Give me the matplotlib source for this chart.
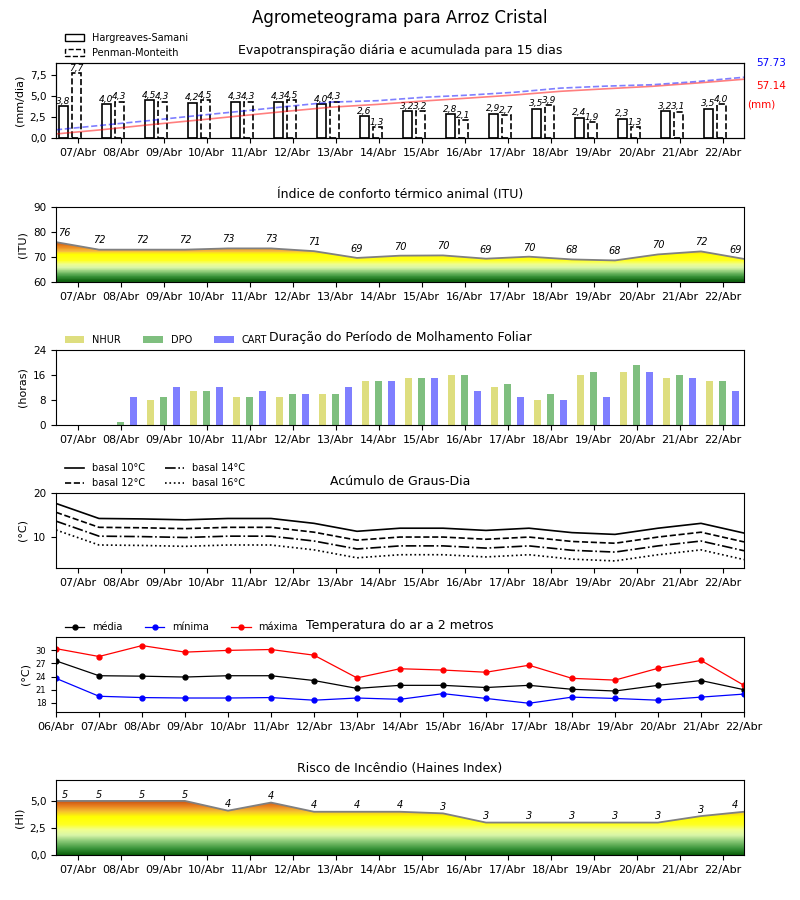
import numpy as np
import matplotlib
matplotlib.use("Agg")
import matplotlib.pyplot as plt
from matplotlib.colors import LinearSegmentedColormap
from matplotlib.patches import Patch
from matplotlib.ticker import FuncFormatter

# --- dados ---
dias = ["07/Abr", "08/Abr", "09/Abr", "10/Abr", "11/Abr", "12/Abr", "13/Abr", "14/Abr",
        "15/Abr", "16/Abr", "17/Abr", "18/Abr", "19/Abr", "20/Abr", "21/Abr", "22/Abr"]
dias_temp = ["06/Abr"] + dias

et_hs = [3.8, 4.0, 4.5, 4.2, 4.3, 4.3, 4.0, 2.6, 3.2, 2.8, 2.9, 3.5, 2.4, 2.3, 3.2, 3.5]
et_pm = [7.7, 4.3, 4.3, 4.5, 4.3, 4.5, 4.3, 1.3, 3.2, 2.1, 2.7, 3.9, 1.9, 1.3, 3.1, 4.0]
et_total_pm = 57.73
et_total_hs = 57.14

itu = [75.9, 72.9, 72.9, 72.9, 73.4, 73.4, 72.3, 69.6, 70.5, 70.6, 69.3, 70.1, 69.0, 68.6, 71.0, 72.2, 69.2]
itu_rotulos = [76, 72, 72, 72, 73, 73, 71, 69, 70, 70, 69, 70, 68, 68, 70, 72, 69]

nhur = [0, 0, 8, 11, 9, 9, 10, 14, 15, 16, 12, 8, 16, 17, 15, 14]
dpo = [0, 1, 9, 11, 9, 10, 10, 14, 15, 16, 13, 10, 17, 19, 16, 14]
cart = [0, 9, 12, 12, 11, 10, 12, 14, 15, 11, 9, 8, 9, 17, 15, 11]

gd_10 = [17.6, 14.2, 14.1, 13.9, 14.2, 14.2, 13.1, 11.3, 12.0, 12.0, 11.5, 12.0, 11.0, 10.6, 12.0, 13.1, 10.9]
gd_12 = [15.6, 12.2, 12.1, 11.9, 12.2, 12.2, 11.1, 9.3, 10.0, 10.0, 9.5, 10.0, 9.0, 8.6, 10.0, 11.1, 8.9]
gd_14 = [13.6, 10.2, 10.1, 9.9, 10.2, 10.2, 9.1, 7.3, 8.0, 8.0, 7.5, 8.0, 7.0, 6.6, 8.0, 9.1, 6.9]
gd_16 = [11.6, 8.2, 8.1, 7.9, 8.2, 8.2, 7.1, 5.3, 6.0, 6.0, 5.5, 6.0, 5.0, 4.6, 6.0, 7.1, 4.9]

t_media = [27.6, 24.2, 24.1, 23.9, 24.2, 24.2, 23.1, 21.3, 22.0, 22.0, 21.5, 22.0, 21.1, 20.7, 22.0, 23.1, 21.0]
t_min = [23.6, 19.5, 19.2, 19.1, 19.1, 19.2, 18.6, 19.1, 18.8, 20.1, 19.0, 17.9, 19.3, 19.0, 18.6, 19.3, 20.0]
t_max = [30.4, 28.6, 31.1, 29.6, 30.0, 30.2, 28.9, 23.7, 25.8, 25.5, 25.0, 26.6, 23.6, 23.2, 25.9, 27.7, 22.0]

haines = [5.0, 5.0, 5.0, 5.0, 4.1, 4.85, 4.0, 4.0, 4.0, 3.85, 3.0, 3.0, 3.0, 3.0, 3.0, 3.6, 4.0]
haines_rotulos = [5, 5, 5, 5, 4, 4, 4, 4, 4, 3, 3, 3, 3, 3, 3, 3, 4]

virgula = FuncFormatter(lambda v, p: f"{v:.1f}".replace(".", ","))


def cmap_valores(paradas, vmin, vmax, n=256):
    return LinearSegmentedColormap.from_list(
        "grad", [((v - vmin) / (vmax - vmin), c) for v, c in paradas], N=n)


def preenche_gradiente(ax, x, y, ylim, cmap, vmin, vmax):
    poly = ax.fill_between(x, ylim[0], y, color="none", lw=0)
    grad = np.linspace(ylim[0], ylim[1], 400).reshape(-1, 1)
    im = ax.imshow(grad, cmap=cmap, vmin=vmin, vmax=vmax, origin="lower", aspect="auto",
                   extent=[x[0], x[-1], ylim[0], ylim[1]], zorder=1)
    im.set_clip_path(poly.get_paths()[0], transform=ax.transData)
    ax.plot(x, y, color="#808080", lw=1.3, zorder=2)


def eixo_dias(ax):
    ax.set_xlim(-0.5, len(dias) - 0.5)
    ax.set_xticks(np.arange(len(dias)))
    ax.set_xticklabels(dias, fontsize=8)
    ax.tick_params(axis="y", labelsize=7.5)


fig = plt.figure(figsize=(8, 9), dpi=100)
fig.suptitle("Agrometeograma para Arroz Cristal", fontsize=12, y=0.99)

L, W, H = 0.07, 0.86, 0.0835
bases = [0.8467, 0.6867, 0.5278, 0.3689, 0.2089, 0.05]
axs = [fig.add_axes([L, b, W, H]) for b in bases]
leg_pos = (0.006, 1.0)

# 1. Evapotranspiração
ax = axs[0]
x = np.arange(len(dias))
ax.bar(x - 0.33, et_hs, 0.2, facecolor="white", edgecolor="black", lw=1.2)
ax.bar(x - 0.03, et_pm, 0.2, facecolor="white", edgecolor="black", lw=1.2, linestyle="--")
for xi, v in zip(x - 0.33, et_hs):
    ax.text(xi, v + 0.05, f"{v:.1f}".replace(".", ","), ha="center", va="bottom",
            fontsize=6.5, style="italic")
for xi, v in zip(x - 0.03, et_pm):
    ax.text(xi, v + 0.05, f"{v:.1f}".replace(".", ","), ha="center", va="bottom",
            fontsize=6.5, style="italic")
eixo_dias(ax)
ax.set_ylim(0, max(et_pm) * 1.16)
ax.set_yticks([0, 2.5, 5, 7.5])
ax.yaxis.set_major_formatter(virgula)
ax.set_ylabel("(mm/dia)", fontsize=8)
ax.set_title("Evapotranspiração diária e acumulada para 15 dias", fontsize=9, pad=6)
ax.legend(handles=[Patch(facecolor="white", edgecolor="black", label="Hargreaves-Samani"),
                   Patch(facecolor="white", edgecolor="black", linestyle="--", label="Penman-Monteith")],
          loc="lower left", bbox_to_anchor=leg_pos, frameon=False, fontsize=7,
          borderaxespad=0.1, handlelength=2)
ax2 = ax.twinx()
xa = np.linspace(-0.5, len(dias) - 0.5, len(dias))
ax2.plot(xa, np.cumsum(et_hs), "r-", alpha=0.5, lw=1.2)
ax2.plot(xa, np.cumsum(et_pm), "b--", alpha=0.5, lw=1.2)
ax2.set_ylim(0, et_total_pm * 1.23)
ax2.set_yticks([])
ax.text(1.018, 1.0, f"{et_total_pm:.2f}", color="blue", fontsize=7.5, transform=ax.transAxes, va="center")
ax.text(1.018, 0.69, f"{et_total_hs:.2f}", color="red", fontsize=7.5, transform=ax.transAxes, va="center")
ax.text(1.004, 0.44, "(mm)", color="red", fontsize=7.5, transform=ax.transAxes, va="center")

# 2. ITU
ax = axs[1]
xk = np.arange(len(itu)) - 0.5
cmap_itu = cmap_valores([(60, "#0a5f0a"), (62, "#3c963c"), (64, "#8fcc7a"), (65.5, "#d8f5a8"),
                         (67, "#f0ff90"), (68.5, "#ffff20"), (71.2, "#ffff00"), (72.2, "#f8c040"),
                         (74.0, "#ec8a20"), (76.5, "#c85010")], 60, 76.5, n=28)
preenche_gradiente(ax, xk, itu, (60, 90), cmap_itu, 60, 76.5)
for xi, v, r in zip(np.clip(xk, -0.3, 15.3), itu, itu_rotulos):
    ax.annotate(str(r), (xi, v), xytext=(0, 3), textcoords="offset points", ha="center",
                va="bottom", fontsize=7, style="italic")
eixo_dias(ax)
ax.set_ylim(60, 90)
ax.set_yticks([60, 70, 80, 90])
ax.set_ylabel("(ITU)", fontsize=8)
ax.set_title("Índice de conforto térmico animal (ITU)", fontsize=9, pad=6)

# 3. Molhamento foliar
ax = axs[2]
ax.bar(x - 0.3, nhur, 0.16, color="y", alpha=0.5, label="NHUR")
ax.bar(x, dpo, 0.16, color="g", alpha=0.5, label="DPO")
ax.bar(x + 0.3, cart, 0.16, color="b", alpha=0.5, label="CART")
eixo_dias(ax)
ax.set_ylim(0, 24)
ax.set_yticks([0, 8, 16, 24])
ax.set_ylabel("(horas)", fontsize=8)
ax.set_title("Duração do Período de Molhamento Foliar", fontsize=9, pad=6)
ax.legend(loc="lower left", bbox_to_anchor=leg_pos, ncol=3, frameon=False, fontsize=7,
          borderaxespad=0.1, columnspacing=2.3)

# 4. Graus-dia
ax = axs[3]
ax.plot(xk, gd_10, "k-", lw=1.2, label="basal 10°C")
ax.plot(xk, gd_12, "k--", lw=1.2, label="basal 12°C")
ax.plot(xk, gd_14, "k-.", lw=1.2, label="basal 14°C")
ax.plot(xk, gd_16, "k:", lw=1.2, label="basal 16°C")
eixo_dias(ax)
ax.set_ylim(3, 20)
ax.set_yticks([10, 20])
ax.set_ylabel("(°C)", fontsize=8)
ax.set_title("Acúmulo de Graus-Dia", fontsize=9, pad=6)
ax.legend(loc="lower left", bbox_to_anchor=leg_pos, ncol=2, frameon=False, fontsize=7,
          borderaxespad=0.1)

# 5. Temperatura
ax = axs[4]
xt = np.arange(len(dias_temp))
ax.plot(xt, t_media, "k-o", lw=0.9, ms=3.5, label="média")
ax.plot(xt, t_min, "b-o", lw=0.9, ms=3.5, label="mínima")
ax.plot(xt, t_max, "r-o", lw=0.9, ms=3.5, label="máxima")
ax.set_xlim(0, len(dias_temp) - 1)
ax.set_xticks(xt)
ax.set_xticklabels(dias_temp, fontsize=8)
ax.set_ylim(min(t_min) - 2, max(t_max) + 2)
ax.set_yticks([18, 21, 24, 27, 30])
ax.tick_params(axis="y", labelsize=6)
ax.set_ylabel("(°C)", fontsize=8)
ax.set_title("Temperatura do ar a 2 metros", fontsize=9, pad=6)
ax.legend(loc="lower left", bbox_to_anchor=leg_pos, ncol=3, frameon=False, fontsize=7,
          borderaxespad=0.1, columnspacing=2.3)

# 6. Haines
ax = axs[5]
cmap_hi = cmap_valores([(0, "#0a5f0a"), (0.6, "#3c963c"), (1.3, "#8fcc7a"), (1.8, "#d8f5a8"),
                        (2.3, "#f0ff90"), (2.8, "#ffff20"), (3.5, "#ffff00"), (4.0, "#f5c030"),
                        (4.5, "#e88020"), (5.0, "#c85010")], 0, 5)
preenche_gradiente(ax, xk, haines, (0, 7), cmap_hi, 0, 5)
for xi, v, r in zip(np.clip(xk, -0.3, 15.3), haines, haines_rotulos):
    ax.annotate(str(r), (xi, v), xytext=(0, 1), textcoords="offset points", ha="center",
                va="bottom", fontsize=7, style="italic")
eixo_dias(ax)
ax.set_ylim(0, 6.95)
ax.set_yticks([0, 2.5, 5])
ax.yaxis.set_major_formatter(virgula)
ax.set_ylabel("(HI)", fontsize=8)
ax.set_title("Risco de Incêndio (Haines Index)", fontsize=9, pad=6)

fig.savefig("out.png", dpi=100)
